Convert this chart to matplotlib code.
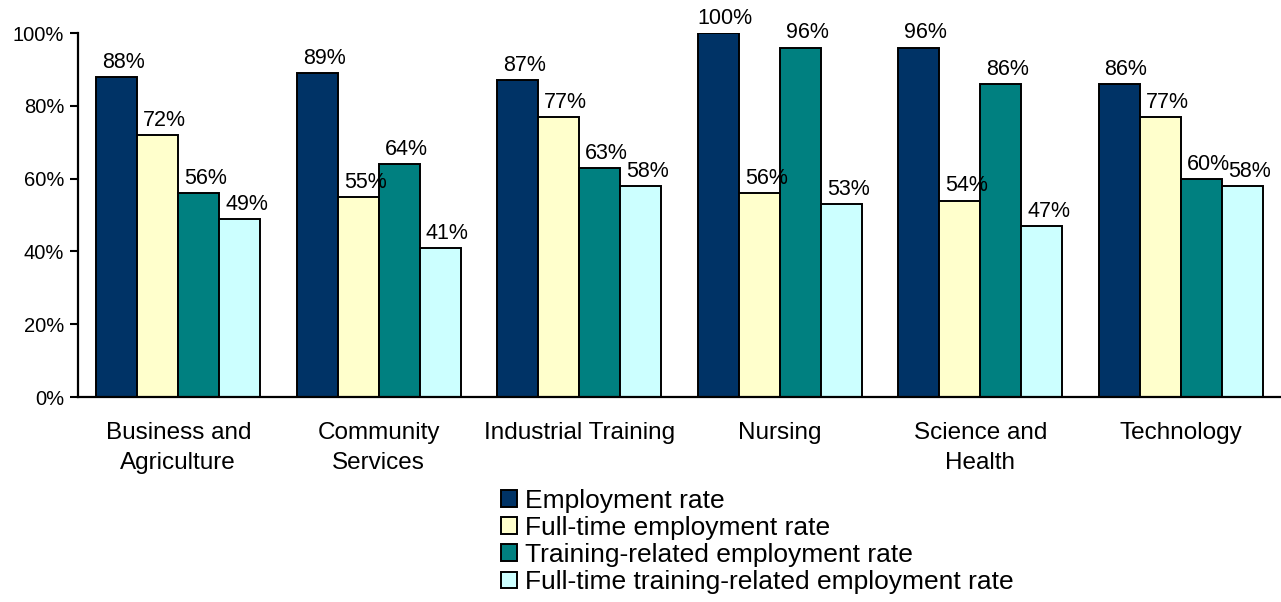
import numpy as np
import matplotlib
matplotlib.use("Agg")
import matplotlib.pyplot as plt
from matplotlib.ticker import PercentFormatter, MultipleLocator

plt.rcParams['font.family'] = ['Liberation Sans', 'DejaVu Sans']

categories = ["Business and\nAgriculture", "Community\nServices", "Industrial Training",
              "Nursing", "Science and\nHealth", "Technology"]
series_names = ["Employment rate", "Full-time employment rate",
                "Training-related employment rate",
                "Full-time training-related employment rate"]
employment = [88, 89, 87, 100, 96, 86]
full_time = [72, 55, 77, 56, 54, 77]
training_related = [56, 64, 63, 96, 86, 60]
ft_training_related = [49, 41, 58, 53, 47, 58]
colors = ["#003366", "#FFFFCC", "#008080", "#CCFFFF"]

series = [employment, full_time, training_related, ft_training_related]

fig = plt.figure(figsize=(12.81, 6.02), dpi=100)
ax = fig.add_axes([0.0609, 0.3405, 0.9391, 0.6045])

x = np.arange(len(categories))
width = 0.205
for i, (vals, name, col) in enumerate(zip(series, series_names, colors)):
    pos = x + (i - 1.5) * width
    bars = ax.bar(pos, vals, width, color=col, edgecolor="black", linewidth=1.4,
                  label=name, zorder=2)
    for b, v in zip(bars, vals):
        ax.annotate(f"{v}%", (b.get_x() + b.get_width() / 2, v),
                    xytext=(5, 3), textcoords="offset points",
                    ha="center", va="bottom", fontsize=15.5)

ax.set_xlim(-0.5, len(categories) - 0.5)
ax.set_ylim(0, 100)
ax.yaxis.set_major_locator(MultipleLocator(20))
ax.yaxis.set_major_formatter(PercentFormatter(decimals=0))
ax.set_xticks(x)
ax.set_xticklabels(categories, fontsize=17.5, linespacing=1.45)
ax.tick_params(axis="x", length=0, pad=18)
ax.tick_params(axis="y", labelsize=14.5, length=6, width=1.5, pad=4)
for side in ["top", "right"]:
    ax.spines[side].set_visible(False)
for side in ["left", "bottom"]:
    ax.spines[side].set_linewidth(1.6)
ax.margins(y=0)

fig.legend(loc="upper left", bbox_to_anchor=(0.391, 0.188), frameon=False,
           fontsize=19, handlelength=0.6, handleheight=0.6,
           handletextpad=0.3, labelspacing=0.12, borderaxespad=0, borderpad=0)

fig.savefig("out.png", dpi=100)
